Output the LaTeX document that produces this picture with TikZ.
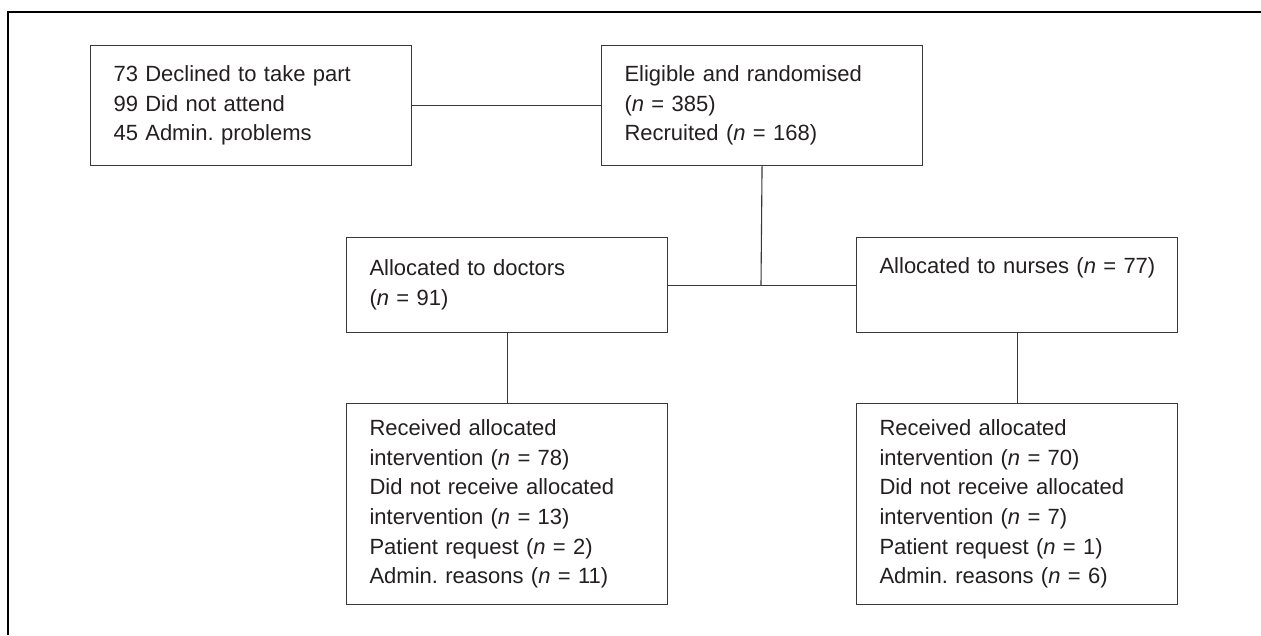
\documentclass[tikz,border=0pt]{standalone}
\usepackage{fontspec}
\setmainfont{Liberation Sans}
\frenchspacing
\definecolor{boxgray}{HTML}{383838}
\definecolor{txt}{HTML}{231F20}
\newcommand{\nval}[1]{\mbox{(\textit{n} = #1)}}
\begin{document}
\begin{tikzpicture}[x=1pt,y=-1pt,
  box/.style={draw=boxgray, line width=1.1pt, rectangle, anchor=north west, align=left,
    inner xsep=23pt, inner ysep=0pt, text width=275pt, minimum height=#1, text=txt,
    font=\fontsize{22}{29.6}\selectfont},
  link/.style={draw=boxgray, line width=1.1pt},
  frameline/.style={draw=black, line width=1.8pt}]
\useasboundingbox (0,0) rectangle (1261,635);
\draw[frameline] (8,635) -- (8,12) -- (1261,12);
\node[box=120pt] (b1) at (90,45)
  {73 Declined to take part\\99 Did not attend\\45 Admin. problems};
\node[box=120pt] (b2) at (601,45)
  {Eligible and randomised\\\nval{385}\\Recruited \nval{168}};
\node[box=95pt] (b3) at (346,237)
  {Allocated to doctors\\\nval{91}};
\node[box=95pt] (b4) at (856,237)
  {\mbox{Allocated to nurses \nval{77}}\\\strut};
\node[box=201pt] (b5) at (346,403)
  {Received allocated\\intervention \nval{78}\\Did not receive allocated\\intervention \nval{13}\\Patient request \nval{2}\\Admin. reasons \nval{11}};
\node[box=201pt] (b6) at (856,403)
  {Received allocated\\intervention \nval{70}\\Did not receive allocated\\intervention \nval{7}\\Patient request \nval{1}\\Admin. reasons \nval{6}};
\coordinate (j) at (761,286);
\draw[link] (b1.east) -- (b2.west);
\draw[link] (b3.east) -- (b4.west);
\draw[link] (b2.south) -- (j |- b3.east);
\draw[link] (b3.south) -- (b5.north);
\draw[link] (b4.south) -- (b6.north);
\end{tikzpicture}
\end{document}
